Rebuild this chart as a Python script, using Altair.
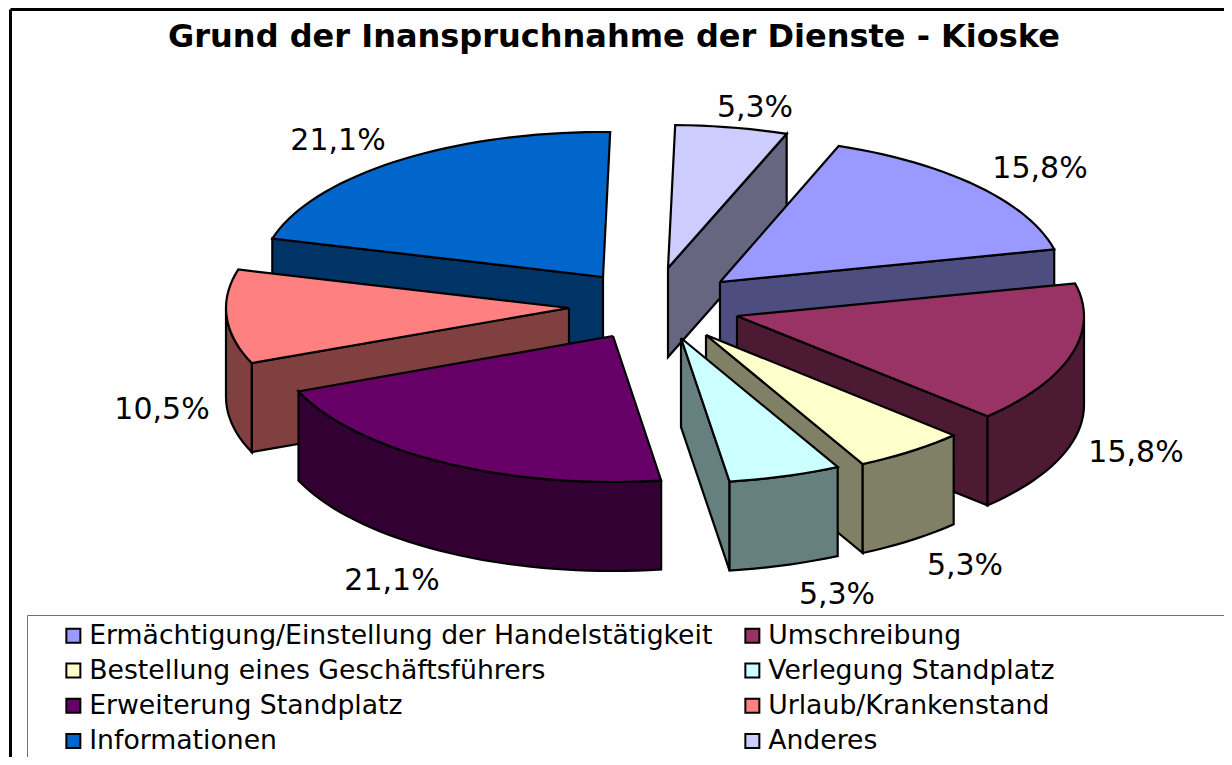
import math
import altair as alt
import pandas as pd

categories = ["Ermächtigung/Einstellung der Handelstätigkeit", "Umschreibung",
              "Bestellung eines Geschäftsführers", "Verlegung Standplatz",
              "Erweiterung Standplatz", "Urlaub/Krankenstand",
              "Informationen", "Anderes"]
percent = [15.8, 15.8, 5.3, 5.3, 21.1, 10.5, 21.1, 5.3]
percent_text = ["15,8%", "15,8%", "5,3%", "5,3%", "21,1%", "10,5%", "21,1%", "5,3%"]
top_colors = ["#9999FF", "#993366", "#FFFFCC", "#CCFFFF", "#660066", "#FF8080", "#0066CC", "#CCCCFF"]
side_colors = ["#4D4D80", "#4D1A33", "#808066", "#668080", "#330033", "#804040", "#003366", "#666680"]
apex_x = [720, 737, 706, 681, 613, 569, 603, 668]
apex_y = [282, 316, 335, 338, 336, 308, 277, 268]
radius_x = [343, 347, 343, 343, 340, 343, 343, 343]
radius_y = [145, 145, 145, 145, 146, 145, 145, 143]
label_x = [1040, 1136, 965, 837, 392, 162, 338, 755]
label_y = [169, 453, 566, 595, 581, 410, 141, 108]
paint_order = [6, 5, 4, 7, 0, 1, 2, 3]

DEPTH, START = 89, 1.2
W, H = 1216, 749

# slice angles, clockwise from 12 o'clock, follow from the percentages
total = sum(percent)
starts, ends = [], []
angle = START + percent[-1] / total * 360
for p in percent:
    starts.append(angle)
    angle += p / total * 360
    ends.append(angle)
starts[-1], ends[-1] = START, START + percent[-1] / total * 360


def rim(i, t):
    r = math.radians(t)
    return apex_x[i] + radius_x[i] * math.sin(r), apex_y[i] - radius_y[i] * math.cos(r)


rows = []


def add_poly(pts, color):
    pid = f"p{len(set(r['poly'] for r in rows)):03d}"
    for k, (x, y) in enumerate(pts):
        rows.append({"poly": pid, "seq": k, "x": x, "y": y, "color": color})
    rows.append({"poly": pid, "seq": len(pts), "x": pts[0][0], "y": pts[0][1], "color": color})


def sweep(a, b, step=2.0):
    n = max(1, int(abs(b - a) / step))
    return [a + (b - a) * k / n for k in range(n + 1)]


for i in paint_order:
    s, e = starts[i], ends[i]
    ax, ay = apex_x[i], apex_y[i]
    drop = lambda p: (p[0], p[1] + DEPTH)
    # radial walls that face the viewer
    if math.sin(math.radians(s)) < 0:
        p = rim(i, s)
        add_poly([(ax, ay), p, drop(p), (ax, ay + DEPTH)], side_colors[i])
    if 5 < (e % 360) < 180:
        p = rim(i, e)
        add_poly([(ax, ay), p, drop(p), (ax, ay + DEPTH)], side_colors[i])
    # curved wall: the front half of the rim only
    a, b = max(s, 90), min(e, 270)
    if a < b:
        arc = [rim(i, t) for t in sweep(a, b)]
        add_poly(arc + [drop(p) for p in reversed(arc)], side_colors[i])
    # top face
    add_poly([(ax, ay)] + [rim(i, t) for t in sweep(s, e)], top_colors[i])

polys = pd.DataFrame(rows)

xs = alt.Scale(domain=[8, 8 + W], nice=False, zero=False)
ys = alt.Scale(domain=[8, 8 + H], nice=False, zero=False, reverse=True)
X = lambda f: alt.X(f, type="quantitative", scale=xs, axis=None)
Y = lambda f: alt.Y(f, type="quantitative", scale=ys, axis=None)

pie = alt.Chart(polys).mark_line(stroke="black", strokeWidth=2.2, strokeJoin="miter", clip=True).encode(
    x=X("x"), y=Y("y"), detail="poly:N", order="seq:Q",
    fill=alt.Fill("color:N", scale=None),
)

frame = pd.DataFrame({"x": [10.5, 10.5], "x2": [10.5, 8 + W], "y": [9.5, 9.5], "y2": [8 + H, 9.5]})
frame_rules = alt.Chart(frame).mark_rule(color="black", strokeWidth=3).encode(
    x=X("x"), x2="x2:Q", y=Y("y"), y2="y2:Q")

box = pd.DataFrame({"x": [27.5, 27.5], "x2": [27.5, 8 + W], "y": [615.5, 615.5], "y2": [8 + H, 615.5]})
box_rules = alt.Chart(box).mark_rule(color="#707070", strokeWidth=1).encode(
    x=X("x"), x2="x2:Q", y=Y("y"), y2="y2:Q")

labels = pd.DataFrame({"x": label_x, "y": label_y, "t": percent_text})
label_marks = alt.Chart(labels).mark_text(font="DejaVu Sans", fontSize=30, color="black").encode(
    x=X("x"), y=Y("y"), text="t:N")

legend_df = pd.DataFrame({"category": categories, "x": [-100] * 8, "y": [-100] * 8})
legend_marks = alt.Chart(legend_df).mark_square(size=10, opacity=0, clip=True).encode(
    x=X("x"), y=Y("y"),
    fill=alt.Fill("category:N", sort=categories,
                  scale=alt.Scale(domain=categories, range=top_colors),
                  legend=alt.Legend(
                      orient="none", legendX=52, legendY=614, columns=2, title=None,
                      direction="horizontal",
                      symbolType="square", symbolSize=196, symbolStrokeColor="black",
                      symbolStrokeWidth=2, symbolOpacity=1,
                      labelFont="DejaVu Sans", labelFontSize=26.7, labelColor="black",
                      labelOffset=2.5, labelLimit=800, rowPadding=7.2, columnPadding=26,
                      padding=0)),
)

chart = alt.layer(frame_rules, box_rules, legend_marks, pie, label_marks).resolve_scale(
    fill="independent"
).properties(
    width=W, height=H, padding=0, autosize=alt.AutoSizeParams(type="none"),
    title=alt.TitleParams("Grund der Inanspruchnahme der Dienste - Kioske", font="DejaVu Sans",
                          fontSize=32, fontWeight="bold", color="black", anchor="middle",
                          dx=-2, dy=50),
).configure_view(stroke=None)

chart.save("out.html", embed_options={"renderer": "svg", "actions": False})
